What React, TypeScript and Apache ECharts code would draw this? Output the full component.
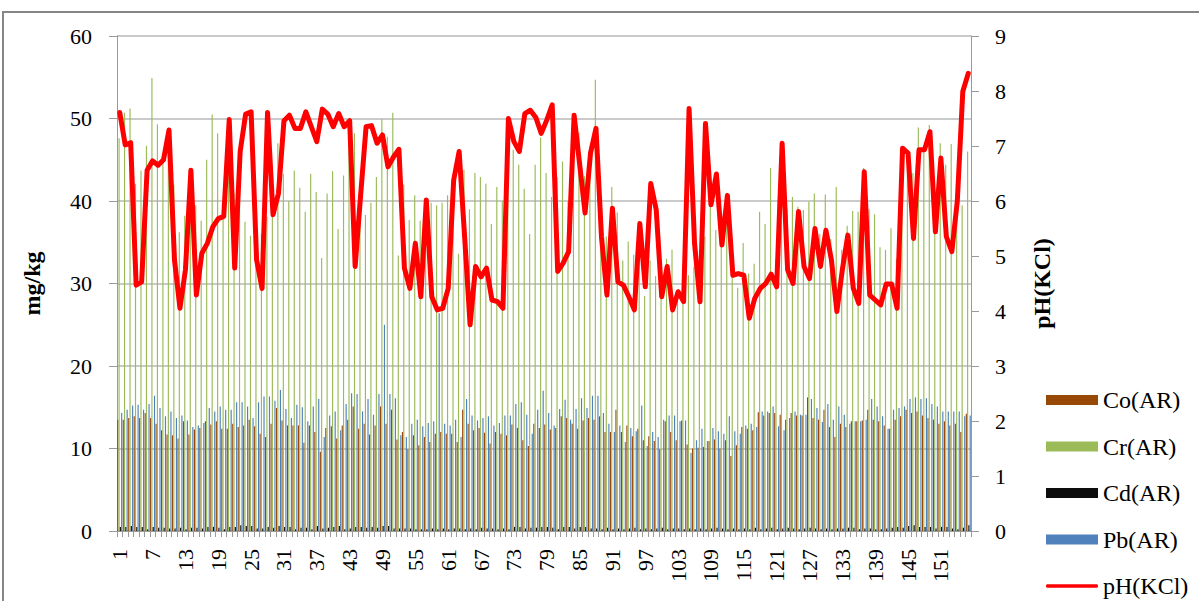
import React, { useEffect, useRef } from "react";
import * as echarts from "echarts";

const categories: string[] = Array.from({ length: 156 }, (_, i) => String(i + 1));

const coValues: number[] = [
  13.5, 13.5, 13.7, 13.9, 13.7, 14.3, 13.7, 13.0, 12.2, 11.7, 11.6, 11.2, 13.3, 11.7, 12.3, 12.5, 13.3, 12.9, 13.3, 12.4, 12.4, 13.0, 12.6, 12.8, 13.5, 12.7,
  11.8, 11.4, 13.0, 14.9, 13.4, 12.8, 12.8, 12.8, 10.7, 12.8, 12.0, 9.6, 12.5, 12.7, 11.2, 12.8, 13.5, 15.1, 12.4, 13.0, 11.7, 12.8, 15.1, 13.0, 14.7, 11.1,
  12.0, 9.9, 11.6, 10.4, 11.4, 10.8, 11.8, 12.0, 11.8, 11.8, 10.8, 14.7, 13.0, 12.2, 12.5, 11.9, 10.6, 12.0, 11.8, 11.6, 12.9, 12.5, 11.0, 10.3, 13.0, 12.5, 12.9,
  12.3, 12.5, 13.9, 13.7, 13.0, 12.4, 13.4, 13.7, 13.5, 13.9, 12.0, 12.0, 14.7, 12.0, 12.8, 11.5, 12.4, 11.0, 11.5, 10.9, 9.9, 13.3, 12.0, 11.0, 13.4, 10.5, 10.0,
  10.1, 10.2, 10.9, 11.1, 10.0, 11.0, 9.1, 10.4, 12.6, 12.4, 12.2, 14.4, 14.0, 14.3, 14.3, 14.1, 13.5, 14.3, 14.0, 14.0, 16.2, 13.7, 13.5, 14.7, 12.6, 11.4,
  13.0, 12.6, 13.3, 13.3, 13.4, 14.7, 13.5, 13.3, 12.8, 12.4, 13.5, 13.9, 14.7, 14.3, 14.5, 14.0, 13.7, 13.5, 13.0, 13.3, 12.8, 13.0, 12.0, 14.2,
];

const crValues: number[] = [
  47.6, 50.7, 51.2, 42.1, 43.7, 46.7, 54.9, 49.3, 45.0, 48.0, 42.0, 36.2, 38.2, 43.0, 39.5, 37.6, 45.0, 50.5, 48.2, 38.0, 44.0, 41.0, 46.0, 37.5, 35.8, 40.0,
  36.0, 38.1, 41.0, 47.0, 43.3, 40.0, 43.7, 41.6, 38.7, 43.3, 41.1, 33.1, 40.9, 43.6, 36.6, 43.1, 47.0, 48.2, 40.0, 38.3, 39.8, 42.9, 49.9, 47.8, 50.7, 33.4,
  42.0, 37.7, 40.7, 37.6, 40.0, 39.8, 39.5, 39.8, 40.7, 42.5, 33.6, 43.8, 39.0, 43.4, 42.9, 42.1, 37.2, 41.7, 40.0, 47.0, 46.2, 44.4, 41.5, 36.0, 44.4, 47.7, 43.4,
  40.5, 42.9, 44.8, 40.0, 47.0, 48.3, 43.0, 45.8, 54.7, 40.0, 35.7, 41.7, 38.6, 32.8, 35.1, 33.5, 36.0, 28.5, 32.8, 30.9, 30.0, 33.0, 34.1, 29.0, 27.8, 31.0, 32.0,
  30.0, 35.7, 41.0, 36.5, 36.0, 41.0, 35.5, 29.5, 34.9, 31.2, 32.4, 38.7, 37.2, 44.0, 33.0, 45.0, 39.0, 40.5, 39.3, 38.9, 39.9, 40.9, 36.0, 40.8, 35.4, 41.7,
  34.1, 37.0, 38.8, 38.7, 44.0, 39.0, 38.4, 34.4, 34.1, 36.7, 33.0, 46.0, 45.0, 43.4, 48.9, 46.0, 49.2, 38.0, 47.0, 44.4, 46.9, 42.0, 39.5, 46.0,
];

const cdValues: number[] = [
  0.5, 0.5, 0.6, 0.5, 0.5, 0.2, 0.5, 0.4, 0.4, 0.3, 0.3, 0.4, 0.2, 0.4, 0.4, 0.3, 0.5, 0.5, 0.4, 0.2, 0.5, 0.5, 0.7, 0.6, 0.6, 0.3,
  0.3, 0.5, 0.4, 0.6, 0.5, 0.5, 0.2, 0.4, 0.4, 0.2, 0.6, 0.3, 0.4, 0.5, 0.6, 0.2, 0.3, 0.5, 0.5, 0.4, 0.5, 0.4, 0.6, 0.6, 0.3, 0.3,
  0.3, 0.3, 0.2, 0.2, 0.2, 0.3, 0.2, 0.3, 0.2, 0.3, 0.3, 0.2, 0.3, 0.2, 0.4, 0.3, 0.3, 0.2, 0.3, 0.2, 0.5, 0.5, 0.3, 0.4, 0.4, 0.5,
  0.5, 0.4, 0.2, 0.5, 0.5, 0.3, 0.5, 0.5, 0.3, 0.3, 0.2, 0.4, 0.2, 0.3, 0.2, 0.3, 0.4, 0.2, 0.3, 0.2, 0.3, 0.4, 0.2, 0.3, 0.3, 0.2,
  0.3, 0.2, 0.3, 0.2, 0.3, 0.4, 0.3, 0.2, 0.3, 0.2, 0.3, 0.2, 0.4, 0.2, 0.3, 0.4, 0.2, 0.3, 0.4, 0.3, 0.2, 0.3, 0.4, 0.3, 0.2, 0.3,
  0.2, 0.3, 0.3, 0.4, 0.4, 0.2, 0.3, 0.3, 0.2, 0.2, 0.3, 0.4, 0.5, 0.4, 0.6, 0.7, 0.5, 0.5, 0.5, 0.3, 0.5, 0.5, 0.3, 0.2, 0.4, 0.7,
];

const pbValues: number[] = [
  14.3, 14.7, 15.2, 15.3, 14.7, 15.4, 16.4, 14.9, 13.9, 14.5, 13.7, 14.0, 13.4, 12.6, 12.8, 13.1, 14.9, 14.5, 15.1, 14.7, 14.7, 15.6, 15.6, 15.1, 13.7, 15.6,
  16.3, 16.3, 15.8, 17.1, 14.8, 13.7, 15.3, 15.0, 13.3, 15.1, 16.0, 11.4, 14.0, 14.5, 12.2, 15.4, 16.7, 16.6, 14.5, 16.0, 14.1, 16.6, 25.0, 16.6, 16.1, 11.6,
  11.4, 13.0, 13.5, 12.7, 13.1, 13.3, 26.4, 13.0, 12.8, 13.5, 11.4, 16.0, 14.0, 13.4, 13.7, 13.9, 12.8, 13.1, 14.0, 14.0, 15.4, 15.6, 14.1, 11.8, 14.7, 17.0, 14.3,
  12.8, 14.8, 15.9, 13.5, 14.8, 16.1, 14.9, 16.4, 16.4, 14.3, 13.0, 12.0, 12.8, 10.8, 12.5, 12.1, 15.2, 10.3, 12.0, 11.4, 13.5, 14.0, 14.0, 13.3, 13.4, 9.5,
  11.0, 12.4, 10.9, 12.5, 12.1, 11.8, 13.9, 12.1, 11.8, 12.8, 13.0, 12.6, 14.5, 14.5, 15.1, 12.7, 12.2, 13.7, 14.5, 14.1, 14.1, 16.0, 14.9, 13.2, 15.4, 13.5, 15.1,
  14.1, 13.0, 13.3, 13.3, 13.5, 16.0, 15.1, 13.9, 12.4, 14.7, 14.9, 15.1, 16.0, 16.2, 16.0, 16.1, 15.4, 15.1, 14.5, 14.5, 14.5, 14.5, 13.9, 14.0,
];

const phValues: number[] = [
  7.61, 7.02, 7.06, 4.47, 4.53, 6.56, 6.73, 6.65, 6.75, 7.29, 4.93, 4.05, 4.75, 6.56, 4.29, 5.05, 5.23, 5.53, 5.68, 5.72, 7.48, 4.78, 6.9, 7.58, 7.62, 4.93,
  4.41, 7.61, 5.75, 6.14, 7.46, 7.56, 7.32, 7.32, 7.62, 7.35, 7.08, 7.67, 7.58, 7.35, 7.59, 7.35, 7.46, 4.81, 6.1, 7.35, 7.37, 7.05, 7.2, 6.62, 6.8, 6.94,
  4.78, 4.41, 5.23, 4.26, 6.02, 4.26, 4.02, 4.05, 4.41, 6.38, 6.9, 5.35, 3.75, 4.81, 4.62, 4.78, 4.2, 4.17, 4.05, 7.5, 7.08, 6.9, 7.59, 7.65, 7.52, 7.23, 7.47,
  7.75, 4.72, 4.87, 5.08, 7.56, 6.68, 5.78, 6.87, 7.32, 5.35, 4.29, 5.87, 4.53, 4.47, 4.26, 4.02, 5.59, 4.44, 6.32, 5.84, 4.26, 4.81, 4.02, 4.35, 4.17, 7.68,
  5.23, 4.17, 7.41, 5.93, 6.49, 5.2, 6.1, 4.65, 4.68, 4.65, 3.87, 4.23, 4.41, 4.5, 4.67, 4.44, 7.05, 4.75, 4.5, 5.81, 4.81, 4.59, 5.5, 4.81, 5.47, 4.93, 3.99,
  4.75, 5.38, 4.41, 4.14, 6.53, 4.29, 4.2, 4.11, 4.49, 4.49, 4.05, 6.96, 6.87, 5.32, 6.93, 6.93, 7.26, 5.44, 6.78, 5.35, 5.08, 6.0, 7.99, 8.32,
];

const seriesNames = ["Co(AR)", "Cr(AR)", "Cd(AR)", "Pb(AR)", "pH(KCl)"];
const leftTicks = { min: 0, max: 60, interval: 10 };
const rightTicks = { min: 0, max: 9, interval: 1 };

const FONT = "'Liberation Serif', 'Times New Roman', serif";
const AXIS_GRAY = "#9a9a9a";
// thin horizontal bar inside a 52x10 box (degenerate corner points keep the box size)
const LINE_ICON =
  "path://M0,0L0.01,0L0,0ZM52,10L51.99,10L52,10ZM1,3.2L51,3.2Q52,3.2 52,5Q52,6.8 51,6.8L1,6.8Q0,6.8 0,5Q0,3.2 1,3.2Z";

export default function App() {
  const ref = useRef<HTMLDivElement>(null);

  useEffect(() => {
    if (!ref.current) return;
    const chart = echarts.init(ref.current, undefined, { renderer: "svg" });
    const barCommon = {
      type: "bar" as const,
      barGap: "12%",
      barCategoryGap: "8%",
      yAxisIndex: 0,
    };
    chart.setOption({
      animation: false,
      backgroundColor: "#ffffff",
      graphic: [
        {
          type: "rect",
          shape: { x: 3, y: 12, width: 1400, height: 900 },
          style: { fill: "none", stroke: "#868686", lineWidth: 2 },
          silent: true,
        },
      ],
      grid: { left: 117, right: 228, top: 36, bottom: 70, containLabel: false },
      legend: {
        orient: "vertical",
        left: 1046,
        top: 388,
        height: 260,
        padding: 0,
        itemWidth: 52,
        itemHeight: 10,
        itemGap: 22.5,
        textStyle: { fontFamily: FONT, fontSize: 24, color: "#000", lineHeight: 24 },
        data: [
          { name: seriesNames[0], icon: "rect" },
          { name: seriesNames[1], icon: "rect" },
          { name: seriesNames[2], icon: "rect" },
          { name: seriesNames[3], icon: "rect" },
          { name: seriesNames[4], icon: LINE_ICON },
        ],
      },
      xAxis: {
        type: "category",
        data: categories,
        boundaryGap: true,
        axisLine: { show: true, lineStyle: { color: AXIS_GRAY, width: 1 } },
        axisTick: { show: true, interval: 0, length: 6, lineStyle: { color: AXIS_GRAY } },
        axisLabel: {
          interval: 5,
          rotate: 90,
          margin: 18,
          fontFamily: FONT,
          fontSize: 22,
          color: "#000",
        },
        splitLine: { show: false },
      },
      yAxis: [
        {
          type: "value",
          ...leftTicks,
          position: "left",
          name: "mg/kg",
          nameLocation: "middle",
          nameGap: 73,
          nameRotate: 90,
          nameTextStyle: { fontFamily: FONT, fontSize: 24, fontWeight: "bold", color: "#000" },
          axisLine: { show: true, lineStyle: { color: AXIS_GRAY } },
          axisTick: { show: true, length: 8, lineStyle: { color: AXIS_GRAY } },
          axisLabel: { margin: 25, fontFamily: FONT, fontSize: 22, color: "#000" },
          splitLine: { show: true, lineStyle: { color: "#b8b8b8", width: 1.5 } },
        },
        {
          type: "value",
          ...rightTicks,
          position: "right",
          name: "pH(KCl)",
          nameLocation: "middle",
          nameGap: 59,
          nameRotate: 90,
          nameTextStyle: { fontFamily: FONT, fontSize: 24, fontWeight: "bold", color: "#000" },
          axisLine: { show: true, lineStyle: { color: AXIS_GRAY } },
          axisTick: { show: true, length: 8, lineStyle: { color: AXIS_GRAY } },
          axisLabel: { margin: 24, fontFamily: FONT, fontSize: 22, color: "#000" },
          splitLine: { show: false },
        },
      ],
      series: [
        { ...barCommon, name: seriesNames[0], data: coValues, itemStyle: { color: "#984807" } },
        { ...barCommon, name: seriesNames[1], data: crValues, itemStyle: { color: "#9BBB59" } },
        { ...barCommon, name: seriesNames[2], data: cdValues, itemStyle: { color: "#0d0d0d" } },
        { ...barCommon, name: seriesNames[3], data: pbValues, itemStyle: { color: "#4F81BD" } },
        {
          type: "line",
          name: seriesNames[4],
          yAxisIndex: 1,
          data: phValues,
          symbol: "none",
          smooth: false,
          z: 5,
          lineStyle: { color: "#ff0000", width: 5, cap: "round", join: "round" },
          itemStyle: { color: "#ff0000" },
        },
      ],
    });
    return () => chart.dispose();
  }, []);

  return (
    <div
      ref={ref}
      style={{ position: "fixed", left: 0, top: 0, width: 1199, height: 601, background: "#fff" }}
    />
  );
}
